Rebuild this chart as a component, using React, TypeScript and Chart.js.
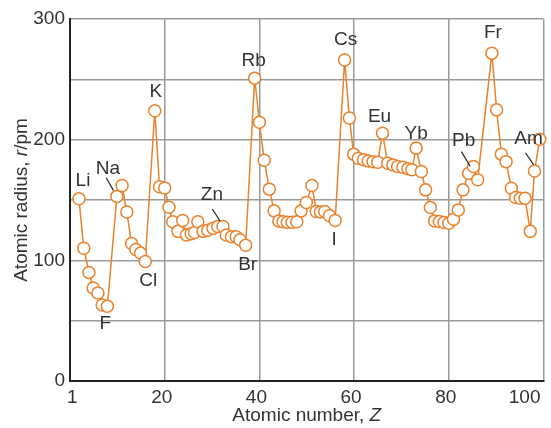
import React, { useEffect, useRef } from "react";
import { Chart, registerables } from "chart.js";

Chart.register(...registerables);

// Position along the atomic-number axis (as drawn) and atomic radius in pm
const atomicPosition = [
  1.9, 2.9, 4.0, 4.9, 5.9, 6.8, 7.9,
  9.9, 11.0, 12.0, 13.0, 13.9, 14.9, 15.9,
  17.9, 18.9, 20.0, 20.9, 21.7, 22.8, 23.8, 24.6, 25.6, 26.3, 27.0, 28.1, 29.1, 30.2, 31.2, 32.3, 33.0, 34.1, 35.1, 35.9, 37.1,
  39.0, 40.0, 41.0, 42.1, 43.1, 44.1, 45.0, 45.9, 46.9, 47.9, 48.8, 49.9, 51.1, 52.0, 52.9, 53.8, 54.8, 56.0,
  58.0, 59.0, 59.9, 60.9, 62.0, 63.0, 64.0, 65.0, 66.0, 67.1, 68.2, 69.2, 70.3, 71.4, 72.2, 73.1, 74.2, 75.1, 76.1,
  77.0, 78.0, 79.0, 80.0, 81.0, 82.0, 83.0, 84.2, 85.2, 86.1,
  89.1, 90.1, 91.1, 92.1, 93.2, 94.1, 95.1, 96.1, 97.2, 98.1, 99.2,
];
const atomicRadius = [
  151, 110, 90, 77, 73, 63, 62,
  153, 162, 140, 114, 109, 106, 99,
  224, 161, 160, 144, 132, 124, 133, 121, 122, 123, 132, 124, 125, 126.5, 128, 128, 121, 119.5, 119.5, 117, 112.5,
  251, 214.5, 183, 159, 141, 132.7, 132, 131.6, 131.6, 132, 141, 148, 162, 140.5, 140, 140.5, 137, 133,
  266, 218, 188, 184.6, 183.3, 182.4, 181.8, 181.3, 205.4, 180.4, 179.1, 177.7, 177.2, 176, 175, 193, 173.6, 158.4, 143.7,
  132.7, 132.1, 131.3, 130.7, 134, 141.8, 158.4, 172.2, 177.7, 166.7,
  271.7, 224.7, 188, 181.8, 159.8, 152, 151.5, 151.5, 124, 174, 200.4,
];

const xTickValues = [0, 20, 40, 60, 80, 100];
const xTickLabels = ["1", "20", "40", "60", "80", "100"];
const yTickLabels = ["0", "100", "200", "300"];

const elementNames = ["Li", "F", "Na", "Cl", "K", "Zn", "Br", "Rb", "I", "Cs", "Eu", "Yb", "Pb", "Fr", "Am"];
const elementPointIndex = [0, 6, 7, 13, 14, 29, 34, 35, 52, 53, 61, 68, 79, 82, 91];

// label placement (pixel offsets from the marked point) – layout only
const labelOffsets: [number, number][] = [
  [4, -18], [-2, 18], [-9, -28], [3, 19], [1, -19], [-11, -32], [2, 20], [-1, -17],
  [-1, 19], [1, -20], [-3, -16], [0, -14], [-5, -32], [1, -20], [-6, -32],
];
const leaderLines: Record<string, [number, number, number, number]> = {
  Na: [-10.7, -18.7, -3.5, -6],
  Zn: [-10.6, -17.6, -3, -5.5],
  Pb: [-7.3, -21.6, 1.5, -7],
  Am: [-9, -18.3, -1, -6.5],
};

const FONT = "'Liberation Sans', Arial, Helvetica, sans-serif";
const TEXT = "#333333";
const ORANGE = "#E8822C";

function drawMixed(
  ctx: CanvasRenderingContext2D,
  parts: { t: string; italic?: boolean }[],
  size: number
) {
  const fonts = parts.map((p) => `${p.italic ? "italic " : ""}${size}px ${FONT}`);
  const widths = parts.map((p, i) => {
    ctx.font = fonts[i];
    return ctx.measureText(p.t).width;
  });
  const total = widths.reduce((a, b) => a + b, 0);
  let x = -total / 2;
  parts.forEach((p, i) => {
    ctx.font = fonts[i];
    ctx.fillText(p.t, x, 0);
    x += widths[i];
  });
}

const annotationPlugin = {
  id: "annotations",
  afterDraw(chart: any) {
    const ctx: CanvasRenderingContext2D = chart.ctx;
    const xs = chart.scales.x;
    const ys = chart.scales.y;
    const area = chart.chartArea;
    ctx.save();
    ctx.fillStyle = TEXT;
    ctx.strokeStyle = "#222";
    ctx.textAlign = "left";
    ctx.textBaseline = "middle";

    elementNames.forEach((name, i) => {
      const idx = elementPointIndex[i];
      const px = xs.getPixelForValue(atomicPosition[idx]);
      const py = ys.getPixelForValue(atomicRadius[idx]);
      const [dx, dy] = labelOffsets[i];
      ctx.font = `19px ${FONT}`;
      ctx.textAlign = "center";
      ctx.fillText(name, px + dx, py + dy);
      const l = leaderLines[name];
      if (l) {
        ctx.lineWidth = 1.2;
        ctx.beginPath();
        ctx.moveTo(px + l[0], py + l[1]);
        ctx.lineTo(px + l[2], py + l[3]);
        ctx.stroke();
      }
    });

    // axis titles
    ctx.textAlign = "left";
    ctx.save();
    ctx.translate((area.left + area.right) / 2, 416);
    drawMixed(ctx, [{ t: "Atomic number, " }, { t: "Z", italic: true }], 19);
    ctx.restore();

    ctx.save();
    ctx.translate(22, (area.top + area.bottom) / 2);
    ctx.rotate(-Math.PI / 2);
    drawMixed(ctx, [{ t: "Atomic radius, " }, { t: "r", italic: true }, { t: "/pm" }], 19);
    ctx.restore();

    ctx.restore();
  },
};

export default function App() {
  const canvasRef = useRef<HTMLCanvasElement | null>(null);

  useEffect(() => {
    if (!canvasRef.current) return;
    const chart = new Chart(canvasRef.current, {
      type: "line",
      data: {
        datasets: [
          {
            data: atomicPosition.map((x, i) => ({ x, y: atomicRadius[i] })),
            borderColor: ORANGE,
            borderWidth: 1.5,
            pointRadius: 6,
            pointBackgroundColor: "#ffffff",
            pointBorderColor: ORANGE,
            pointBorderWidth: 1.5,
            tension: 0,
            clip: false as any,
          },
        ],
      },
      options: {
        animation: false,
        responsive: false,
        maintainAspectRatio: false,
        layout: { padding: { top: 19, right: 7, left: 0, bottom: 0 } },
        plugins: { legend: { display: false }, tooltip: { enabled: false } },
        scales: {
          x: {
            type: "linear",
            min: 0,
            max: 100,
            afterBuildTicks: (s: any) => {
              s.ticks = xTickValues.map((v) => ({ value: v }));
            },
            ticks: {
              callback: (v: any) => xTickLabels[xTickValues.indexOf(Number(v))] ?? "",
              font: { family: FONT, size: 19 },
              color: TEXT,
              align: "inner",
              labelOffset: -3,
              padding: 5,
              maxRotation: 0,
              autoSkip: false,
            },
            grid: { color: "#9a9a9a", lineWidth: 1.5, drawTicks: false },
            border: { color: "#222", width: 2 },
            afterFit: (s: any) => {
              s.height = 47;
              s.paddingLeft = 0;
              s.paddingRight = 0;
            },
          },
          y: {
            min: 0,
            max: 300,
            ticks: {
              stepSize: 50,
              callback: (v: any) => {
                const n = Number(v);
                return n % 100 === 0 ? yTickLabels[n / 100] : "";
              },
              font: { family: FONT, size: 19 },
              color: TEXT,
              padding: 5,
              autoSkip: false,
            },
            grid: { color: "#9a9a9a", lineWidth: 1.5, drawTicks: false },
            border: { color: "#222", width: 2 },
            afterFit: (s: any) => {
              s.width = 70;
              s.paddingTop = 0;
              s.paddingBottom = 0;
            },
          },
        },
      },
      plugins: [annotationPlugin],
    } as any);
    return () => chart.destroy();
  }, []);

  return (
    <div style={{ position: "absolute", left: 0, top: 0, width: 551, height: 428, background: "#fff" }}>
      <canvas ref={canvasRef} width={551} height={428} style={{ display: "block" }} />
    </div>
  );
}
